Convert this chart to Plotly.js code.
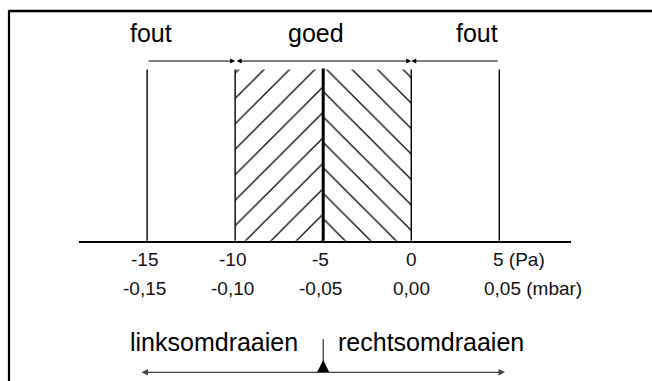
<!DOCTYPE html>
<html>
<head>
<meta charset="utf-8">
<script src="https://cdn.plot.ly/plotly-3.0.1.min.js"></script>
<style>html,body{margin:0;padding:0;background:#fff;}#chart{width:652px;height:381px;}</style>
</head>
<body>
<div id="chart"></div>
<script>
// ---------- data ----------
const paTicks = [-15, -10, -5, 0, 5];
const paLabels = ['-15', '-10', '-5', '0', '5 (Pa)'];
const mbarLabels = ['-0,15', '-0,10', '-0,05', '0,00', '0,05 (mbar)'];
const zoneLabels = ['fout', 'goed', 'fout'];
const zoneBounds = [-15, -10, 0, 5];
const setpoint = -5;
const tolerance = [-10, 0];
const directionLabels = ['linksomdraaien', 'rechtsomdraaien'];

// ---------- layout constants ----------
const W = 652, H = 381;
const FONT = 'Liberation Sans, Arial, Helvetica, sans-serif';
const xRange = [-18.867, 9.071];
const xDomPx = [79, 571];
function vx(px) { return xRange[0] + (px - xDomPx[0]) / (xDomPx[1] - xDomPx[0]) * (xRange[1] - xRange[0]); }
const Y = {label: 32.5, arrow: 61, top: 69.5, axis: 240.7, row1: 259, row2: 288.5,
           dir: 342, pointerTop: 339, pointerTip: 360, dirArrow: 372.3};
const zoneLabelX = [-14.8, -5.4, 3.75];

const traces = [];
// hatched tolerance band
traces.push({x: [tolerance[0], setpoint, setpoint, tolerance[0]], y: [Y.axis, Y.axis, Y.top, Y.top],
  type: 'scatter', mode: 'lines', fill: 'toself', line: {width: 0}, hoverinfo: 'skip',
  fillcolor: '#fff',
  fillpattern: {shape: '/', fgcolor: '#000', bgcolor: '#fff', size: 18, solidity: 0.07}});
traces.push({x: [setpoint, tolerance[1], tolerance[1], setpoint], y: [Y.axis, Y.axis, Y.top, Y.top],
  type: 'scatter', mode: 'lines', fill: 'toself', line: {width: 0}, hoverinfo: 'skip',
  fillcolor: '#fff',
  fillpattern: {shape: '\\', fgcolor: '#000', bgcolor: '#fff', size: 18, solidity: 0.07}});
// thin vertical lines
const vxs = [], vys = [];
paTicks.forEach(v => { if (v !== setpoint) { vxs.push(v, v, null); vys.push(Y.top, Y.axis, null); } });
traces.push({x: vxs, y: vys, type: 'scatter', mode: 'lines', line: {color: '#000', width: 1.4}, hoverinfo: 'skip'});
// setpoint line
traces.push({x: [setpoint, setpoint], y: [Y.top - 1, Y.axis], type: 'scatter', mode: 'lines',
  line: {color: '#000', width: 3}, hoverinfo: 'skip'});
// pointer line
traces.push({x: [setpoint, setpoint], y: [Y.pointerTop, Y.pointerTip + 2], type: 'scatter', mode: 'lines',
  line: {color: '#000', width: 1}, hoverinfo: 'skip'});

const ann = [];
// zone labels
zoneLabels.forEach((t, i) => ann.push({x: zoneLabelX[i], y: Y.label, xref: 'x', yref: 'y', text: t,
  showarrow: false, font: {family: FONT, size: 25, color: '#000'}, xanchor: 'center', yanchor: 'middle'}));
// zone arrows
function arrow(tail, head, y, both, color, width, size) {
  ann.push({x: head, y: y, ax: tail, ay: y, xref: 'x', yref: 'y', axref: 'x', ayref: 'y', text: '',
    showarrow: true, arrowhead: 2, startarrowhead: 2, arrowsize: size, startarrowsize: size,
    arrowwidth: width, arrowcolor: color, arrowside: both ? 'end+start' : 'end', standoff: 0, startstandoff: 0});
}
arrow(zoneBounds[0], zoneBounds[1], Y.arrow, false, '#000', 1, 1);
arrow(zoneBounds[1], zoneBounds[2], Y.arrow, true, '#000', 1, 1);
arrow(zoneBounds[3], zoneBounds[2], Y.arrow, false, '#000', 1, 1);
// tick labels
paTicks.forEach((v, i) => {
  const last = i === paTicks.length - 1;
  const neg = v < 0;
  ann.push({x: v, y: Y.row1, xref: 'x', yref: 'y', text: paLabels[i], showarrow: false,
    font: {family: FONT, size: 19, color: '#111'}, xanchor: last ? 'left' : 'center', yanchor: 'middle',
    xshift: last ? -8 : (neg ? -3 : 0)});
  ann.push({x: v, y: Y.row2, xref: 'x', yref: 'y', text: mbarLabels[i], showarrow: false,
    font: {family: FONT, size: 19, color: '#111'}, xanchor: last ? 'left' : 'center', yanchor: 'middle',
    xshift: last ? -17 : (neg ? -3 : 0)});
});
// direction labels
ann.push({x: setpoint, y: Y.dir, xref: 'x', yref: 'y', text: directionLabels[0], showarrow: false,
  font: {family: FONT, size: 25, color: '#000'}, xanchor: 'right', yanchor: 'middle', xshift: -23});
ann.push({x: setpoint, y: Y.dir, xref: 'x', yref: 'y', text: directionLabels[1], showarrow: false,
  font: {family: FONT, size: 25, color: '#000'}, xanchor: 'left', yanchor: 'middle', xshift: 13});
// direction arrow
ann.push({x: vx(505), y: Y.dirArrow, ax: vx(140), ay: Y.dirArrow, xref: 'x', yref: 'y', axref: 'x', ayref: 'y',
  text: '', showarrow: true, arrowhead: 2, startarrowhead: 2, arrowsize: 1, startarrowsize: 1,
  arrowwidth: 1.3, arrowcolor: '#444', arrowside: 'end+start', standoff: 0, startstandoff: 0});
// pointer triangle
ann.push({x: setpoint, y: Y.pointerTip, ax: setpoint, ay: Y.dirArrow, xref: 'x', yref: 'y', axref: 'x', ayref: 'y',
  text: '', showarrow: true, arrowhead: 2, arrowsize: 1.6, arrowwidth: 1.5, arrowcolor: '#000', standoff: 0});

const layout = {
  width: W, height: H, margin: {l: 0, r: 0, t: 0, b: 0}, paper_bgcolor: '#fff', plot_bgcolor: '#fff',
  showlegend: false,
  xaxis: {domain: [xDomPx[0] / W, xDomPx[1] / W], range: xRange, showgrid: false, zeroline: false,
    showticklabels: false, ticks: '', showline: true, linecolor: '#000', linewidth: 1.8,
    anchor: 'free', position: 1 - Y.axis / H, fixedrange: true},
  yaxis: {domain: [0, 1], range: [H, 0], visible: false, fixedrange: true},
  annotations: ann,
  shapes: [
    {type: 'line', xref: 'paper', yref: 'paper', x0: 9 / W, x1: 1.01, y0: 1 - 11 / H, y1: 1 - 11 / H,
     line: {color: '#000', width: 2.3}},
    {type: 'line', xref: 'paper', yref: 'paper', x0: 9 / W, x1: 9 / W, y0: 1 - 10 / H, y1: -0.02,
     line: {color: '#000', width: 2.2}}
  ]
};
Plotly.newPlot('chart', traces, layout, {staticPlot: true, displayModeBar: false});
</script>
</body>
</html>
